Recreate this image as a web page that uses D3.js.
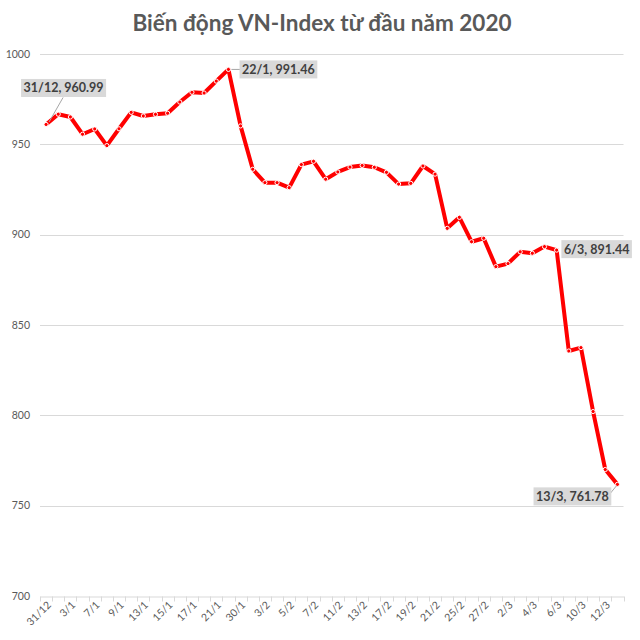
<!DOCTYPE html>
<html><head><meta charset="utf-8">
<script src="https://cdn.jsdelivr.net/npm/d3@7"></script>
<style>body{margin:0;background:#fff}svg{display:block}text{font-family:Lato,"Open Sans",sans-serif}</style>
</head><body><svg id="c" width="640" height="640"></svg>
<script>
const title = "Biến động VN-Index từ đầu năm 2020";
const dates = ["31/12","2/1","3/1","6/1","7/1","8/1","9/1","10/1","13/1","14/1","15/1","16/1","17/1","20/1","21/1","22/1",
  "30/1","31/1","3/2","4/2","5/2","6/2","7/2","10/2","11/2","12/2","13/2","14/2","17/2","18/2","19/2","20/2","21/2",
  "24/2","25/2","26/2","27/2","28/2","2/3","3/3","4/3","5/3","6/3","9/3","10/3","11/3","12/3","13/3"];
const values = [960.99,966.67,965.14,955.6,958.5,949.3,958.6,967.7,965.7,966.6,967.2,973.4,978.8,978.4,985.0,991.46,
  960.2,936.2,928.8,928.8,926.0,938.8,940.6,930.7,934.7,937.4,938.3,937.3,934.5,928.0,928.4,938.0,933.5,
  903.5,909.6,896.1,898.0,882.3,884.0,890.5,889.7,893.4,891.44,835.6,837.5,802.1,770.0,761.78];
const tickLabels = ["31/12","3/1","7/1","9/1","13/1","15/1","17/1","21/1","30/1","3/2","5/2","7/2","11/2","13/2","17/2",
  "19/2","21/2","25/2","27/2","2/3","4/3","6/3","10/3","12/3"];
const yTicks = [700,750,800,850,900,950,1000];
const annotated = ["31/12","22/1","6/3","13/3"];

const svg = d3.select("#c");
const x = d3.scaleBand().domain(dates).range([40, 623.5]).padding(0);
const y = d3.scaleLinear().domain([700, 1000]).range([596, 54]);
const cx = d => x(d) + x.bandwidth() / 2;

svg.append("text").attr("x", 322).attr("y", 31).attr("text-anchor", "middle")
  .attr("font-size", 22.5).attr("font-weight", "bold").attr("fill", "#595959").text(title);

// gridlines
svg.append("g").selectAll("line").data(yTicks.slice(1)).join("line")
  .attr("x1", 40).attr("x2", 623.5).attr("y1", d => Math.round(y(d)) + 0.5).attr("y2", d => Math.round(y(d)) + 0.5)
  .attr("stroke", "#d9d9d9").attr("stroke-width", 1);

// y axis labels
svg.append("g").selectAll("text").data(yTicks).join("text")
  .attr("x", 30).attr("y", d => y(d)).attr("dy", "0.35em").attr("text-anchor", "end")
  .attr("font-size", 10.5).attr("fill", "#595959").text(d => d);

// x axis
const xAxis = svg.append("g").attr("transform", `translate(0,${Math.round(y(700)) + 0.5})`)
  .call(d3.axisBottom(x).tickSize(0).tickFormat(""));
xAxis.select(".domain").attr("stroke", "#d9d9d9");
const bounds = dates.map(d => x(d)).concat([x(dates[dates.length - 1]) + x.bandwidth()]);
xAxis.selectAll(".tk").data(bounds).join("line").attr("class", "tk")
  .attr("x1", d => Math.round(d) + 0.5).attr("x2", d => Math.round(d) + 0.5).attr("y1", 0).attr("y2", 5)
  .attr("stroke", "#d9d9d9");
svg.append("g").selectAll("text").data(tickLabels).join("text")
  .attr("transform", d => `translate(${cx(d) + 3},${603}) rotate(-45)`)
  .attr("text-anchor", "end").attr("dy", "0.35em").attr("font-size", 10.5).attr("fill", "#595959").text(d => d);

// line
const pts = dates.map((d, i) => ({d, v: values[i]}));
svg.append("path").datum(pts)
  .attr("d", d3.line().x(p => cx(p.d)).y(p => y(p.v)))
  .attr("fill", "none").attr("stroke", "#ff0000").attr("stroke-width", 4).attr("stroke-linejoin", "round");
svg.append("g").selectAll("circle").data(pts).join("circle")
  .attr("cx", p => cx(p.d)).attr("cy", p => y(p.v)).attr("r", 2.1)
  .attr("fill", "#ff0000").attr("stroke", "#ffffff").attr("stroke-width", 1);

// annotations
const annOffset = {"31/12": [17.5, -36.5], "22/1": [50, 0], "6/3": [40, -1], "13/3": [-45, 12]};
const annLeader = {"31/12": [[3, -2.5], [17, -27]], "22/1": [[3, 0], [14.5, 0]], "13/3": [[-1, 1.5], [-10, 12.5]]};
annotated.forEach(d => {
  const i = dates.indexOf(d), px = cx(d), py = y(values[i]);
  const [ox, oy] = annOffset[d];
  const g = svg.append("g");
  if (annLeader[d]) {
    const [a, b] = annLeader[d];
    g.append("line").attr("x1", px + a[0]).attr("y1", py + a[1]).attr("x2", px + b[0]).attr("y2", py + b[1])
      .attr("stroke", "#a6a6a6").attr("stroke-width", 1);
  }
  const rect = g.append("rect").attr("fill", "#d9d9d9");
  const t = g.append("text").attr("x", px + ox).attr("y", py + oy).attr("dy", "0.35em").attr("text-anchor", "middle")
    .attr("font-size", 12.5).attr("font-weight", "bold").attr("fill", "#404040")
    .text(`${d}, ${values[i].toFixed(2)}`);
  const bb = t.node().getBBox();
  rect.attr("x", bb.x - 2.5).attr("y", py + oy - 9).attr("width", bb.width + 5).attr("height", 18);
});
</script></body></html>
